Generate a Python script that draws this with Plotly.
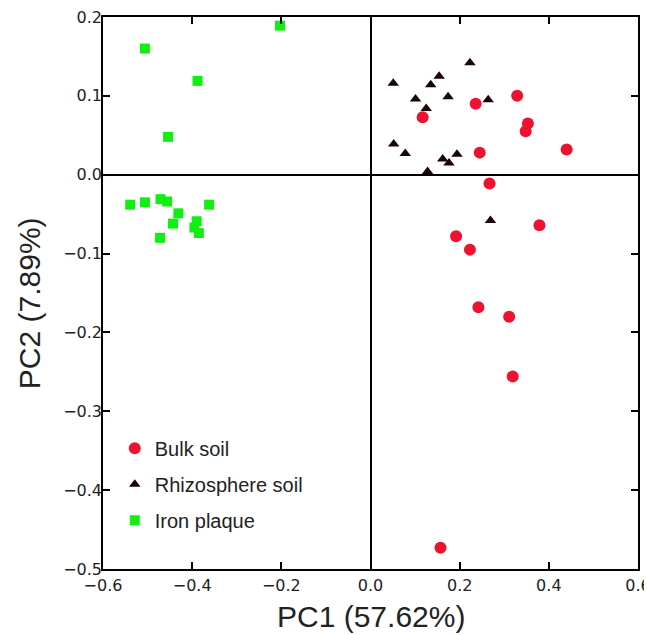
import plotly.graph_objects as go

bulk_x = [0.117, 0.236, 0.329, 0.353, 0.348, 0.440, 0.245, 0.267, 0.379, 0.192, 0.223, 0.242, 0.311, 0.319, 0.157]
bulk_y = [0.073, 0.090, 0.100, 0.065, 0.055, 0.032, 0.028, -0.011, -0.064, -0.078, -0.095, -0.168, -0.180, -0.256, -0.473]

rhizo_x = [0.051, 0.154, 0.135, 0.223, 0.101, 0.174, 0.264, 0.125, 0.052, 0.078, 0.162, 0.176, 0.194, 0.128, 0.269]
rhizo_y = [0.116, 0.125, 0.114, 0.142, 0.096, 0.099, 0.095, 0.084, 0.039, 0.027, 0.020, 0.015, 0.026, 0.004, -0.058]

iron_x = [-0.506, -0.388, -0.203, -0.454, -0.539, -0.506, -0.471, -0.456, -0.362, -0.431, -0.443, -0.390, -0.395, -0.385, -0.472]
iron_y = [0.160, 0.119, 0.189, 0.048, -0.038, -0.035, -0.031, -0.034, -0.038, -0.049, -0.062, -0.059, -0.067, -0.074, -0.080]

x_ticks = [-0.6, -0.4, -0.2, 0.0, 0.2, 0.4, 0.6]
y_ticks = [-0.5, -0.4, -0.3, -0.2, -0.1, 0.0, 0.1, 0.2]

fig = go.Figure()
fig.add_trace(go.Scatter(x=bulk_x, y=bulk_y, mode="markers", name="Bulk soil", legendgroup="a",
                         marker=dict(symbol="circle", size=12, color="#f0112e")))
fig.add_trace(go.Scatter(x=rhizo_x, y=rhizo_y, mode="markers", name="Rhizosphere soil", legendgroup="b",
                         marker=dict(symbol="triangle-up", size=10, color="#1a0505")))
fig.add_trace(go.Scatter(x=iron_x, y=iron_y, mode="markers", name="Iron plaque", legendgroup="c",
                         marker=dict(symbol="square", size=10, color="#11ee11")))

axis_common = dict(showgrid=False, showline=True, linecolor="black", linewidth=1.5, mirror="ticks",
                   ticks="inside", ticklen=7, tickwidth=1.5, tickcolor="black",
                   zeroline=True, zerolinecolor="black", zerolinewidth=1.5, automargin=False,
                   ticklabeloverflow="allow",
                   tickfont=dict(family="DejaVu Sans", size=16, color="#222"), tickformat=".1f")

fig.update_xaxes(range=[-0.6, 0.6], tickvals=x_ticks, ticklabelstandoff=1, **axis_common)
fig.update_yaxes(range=[-0.5, 0.2], tickvals=y_ticks, ticklabelstandoff=-4, **axis_common)

title_font = dict(family="Liberation Sans, Arial", size=30, color="#222")
fig.add_annotation(text="PC1 (57.62%)", xref="paper", yref="paper", x=0.5, y=-0.086,
                   xanchor="center", yanchor="middle", showarrow=False, font=title_font)
fig.add_annotation(text="PC2 (7.89%)", xref="paper", yref="paper", x=-0.136, y=0.482,
                   xanchor="center", yanchor="middle", showarrow=False, textangle=-90, font=title_font)

# page body has an 8px margin, so the figure is sized to end at the window edge
fig.update_layout(
    width=644, height=627,
    margin=dict(l=95, r=14, t=9, b=66),
    plot_bgcolor="white", paper_bgcolor="white",
    legend=dict(x=0.022, y=0.254, xanchor="left", yanchor="top", bgcolor="rgba(0,0,0,0)",
                font=dict(family="Liberation Sans, Arial", size=20, color="#222"),
                tracegroupgap=7, itemwidth=30),
)

fig.write_html("out.html")
